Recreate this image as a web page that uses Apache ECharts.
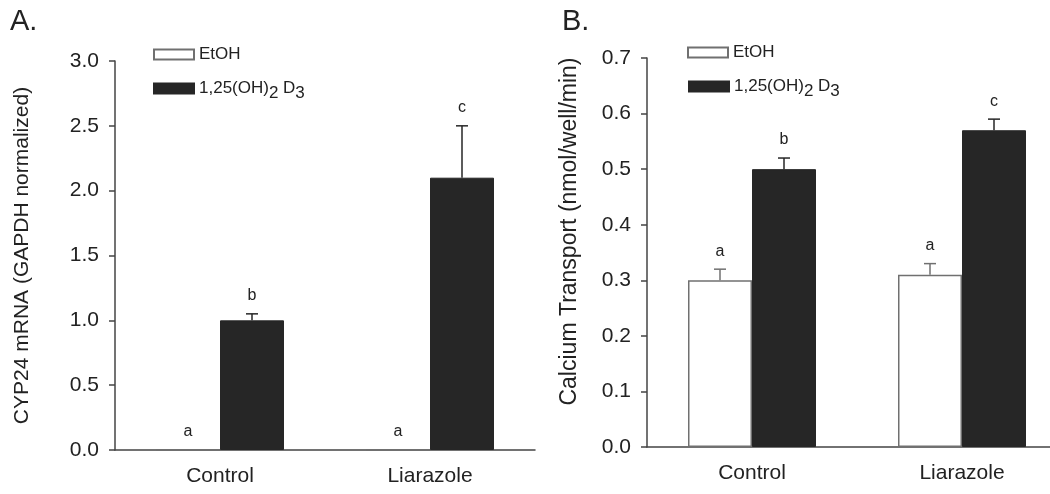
<!DOCTYPE html>
<html><head><meta charset="utf-8">
<script src="https://cdn.jsdelivr.net/npm/echarts@6/dist/echarts.min.js"></script>
<style>html,body{margin:0;padding:0;background:#fff;overflow:hidden}#c{width:1080px;height:494px}</style>
</head><body><div id="c"></div>
<script>
// ---- data ----
const categories = ['Control', 'Liarazole'];
const seriesNames = ['EtOH', '1,25(OH)2 D3'];

// Panel A: CYP24 mRNA
const cypEtOH = [0, 0];
const cypEtOHErr = [0, 0];
const cypD3 = [1.0, 2.1];
const cypD3Err = [0.05, 0.4];
const cypEtOHLetters = ['a', 'a'];
const cypD3Letters = ['b', 'c'];
const cypAxis = { min: 0, max: 3.0, interval: 0.5 };

// Panel B: Calcium transport
const caEtOH = [0.30, 0.31];
const caEtOHErr = [0.02, 0.02];
const caD3 = [0.50, 0.57];
const caD3Err = [0.02, 0.02];
const caEtOHLetters = ['a', 'a'];
const caD3Letters = ['b', 'c'];
const caAxis = { min: 0, max: 0.7, interval: 0.1 };

// ---- styling ----
const FONT = '"Liberation Sans", Arial, Helvetica, sans-serif';
const TXT = '#222';
const AXIS = '#444';
const DARK = '#262626';
const EDGE = '#707070';
const BAR_W = 64;

function errRenderer(offset, color, letters) {
  return function (params, api) {
    const i = api.value(0), v = api.value(1), e = api.value(2);
    const base = api.coord([i, v]);
    const top = api.coord([i, v + e]);
    const x = base[0] + offset;
    const children = [];
    if (e > 0) {
      children.push({ type: 'line', shape: { x1: x, y1: base[1], x2: x, y2: top[1] }, style: { stroke: color, lineWidth: 1.5 } });
      children.push({ type: 'line', shape: { x1: x - 6, y1: top[1], x2: x + 6, y2: top[1] }, style: { stroke: color, lineWidth: 1.5 } });
    }
    children.push({ type: 'text', style: { text: letters[params.dataIndex], x: x, y: top[1] - 18, align: 'center', verticalAlign: 'middle', fontSize: 16, fontFamily: FONT, fill: TXT } });
    return { type: 'group', children: children };
  };
}

function triples(vals, errs) { return vals.map((v, i) => [i, v, errs[i]]); }

function xAxisFor(gi) {
  return {
    type: 'category', gridIndex: gi, data: categories,
    axisLine: { lineStyle: { color: AXIS, width: 1.5 } },
    axisTick: { alignWithLabel: true, length: 7, lineStyle: { color: AXIS, width: 1.5 } },
    axisLabel: { fontSize: 21, fontFamily: FONT, color: TXT, margin: 16 },
    splitLine: { show: false }
  };
}
function yAxisFor(gi, ax, name, nameSize, nameGap, namePad) {
  return {
    type: 'value', gridIndex: gi, min: ax.min, max: ax.max, interval: ax.interval,
    name: name, nameLocation: 'middle', nameGap: nameGap, nameRotate: 90,
    nameTextStyle: { fontSize: nameSize, fontFamily: FONT, color: TXT, padding: namePad },
    axisLine: { show: true, lineStyle: { color: AXIS, width: 1.5 } },
    axisTick: { show: true, length: 6, lineStyle: { color: AXIS, width: 1.5 } },
    axisLabel: { fontSize: 21, fontFamily: FONT, color: TXT, margin: 16, formatter: v => v.toFixed(1) },
    splitLine: { show: false }
  };
}
function barSeries(name, gi, vals, white) {
  return {
    type: 'bar', name: name, xAxisIndex: gi, yAxisIndex: gi, data: vals,
    barWidth: BAR_W, barGap: '0%',
    itemStyle: white ? { color: '#fff', borderColor: EDGE, borderWidth: 1.5 } : { color: DARK, borderColor: DARK, borderWidth: 1 }
  };
}
function errSeries(gi, vals, errs, offset, color, letters) {
  return {
    type: 'custom', xAxisIndex: gi, yAxisIndex: gi, data: triples(vals, errs),
    encode: { x: 0, y: 1 }, renderItem: errRenderer(offset, color, letters), z: 5, silent: true
  };
}
function legendFor(name, left, top) {
  return {
    data: [name], left: left, top: top, orient: 'vertical',
    itemWidth: 40, itemHeight: 10, itemGap: 0, selectedMode: false,
    icon: 'rect',
    formatter: n => n === seriesNames[1] ? '1,25(OH){sub|2} D{sub|3}' : n,
    textStyle: {
      fontSize: 17, fontFamily: FONT, color: TXT,
      rich: { sub: { fontSize: 17, fontFamily: FONT, color: TXT, padding: [9, 0, 0, 0] } }
    }
  };
}

const option = {
  backgroundColor: '#fff',
  animation: false,
  title: [
    { text: 'A.', left: 5, top: 2, textStyle: { fontSize: 29, fontWeight: 'normal', fontFamily: FONT, color: TXT } },
    { text: 'B.', left: 557, top: 2, textStyle: { fontSize: 29, fontWeight: 'normal', fontFamily: FONT, color: TXT } }
  ],
  legend: [
    legendFor(seriesNames[0], 148, 41),
    legendFor(seriesNames[1], 148, 75),
    legendFor(seriesNames[0], 682, 39),
    legendFor(seriesNames[1], 683, 73)
  ],
  grid: [
    { left: 115, top: 61, width: 420, height: 389 },
    { left: 647, top: 58, width: 420, height: 389 }
  ],
  xAxis: [xAxisFor(0), xAxisFor(1)],
  yAxis: [
    yAxisFor(0, cypAxis, 'CYP24 mRNA (GAPDH normalized)', 21, 82, [0, 0, 0, 0]),
    yAxisFor(1, caAxis, 'Calcium Transport (nmol/well/min)', 23, 66, [0, 0, 0, 42])
  ],
  series: [
    barSeries(seriesNames[0], 0, cypEtOH, true),
    barSeries(seriesNames[1], 0, cypD3, false),
    barSeries(seriesNames[0], 1, caEtOH, true),
    barSeries(seriesNames[1], 1, caD3, false),
    errSeries(0, cypEtOH, cypEtOHErr, -BAR_W / 2, EDGE, cypEtOHLetters),
    errSeries(0, cypD3, cypD3Err, BAR_W / 2, DARK, cypD3Letters),
    errSeries(1, caEtOH, caEtOHErr, -BAR_W / 2, EDGE, caEtOHLetters),
    errSeries(1, caD3, caD3Err, BAR_W / 2, DARK, caD3Letters)
  ]
};
const chart = echarts.init(document.getElementById('c'), null, { renderer: 'canvas' });
chart.setOption(option);
</script>
</body></html>
